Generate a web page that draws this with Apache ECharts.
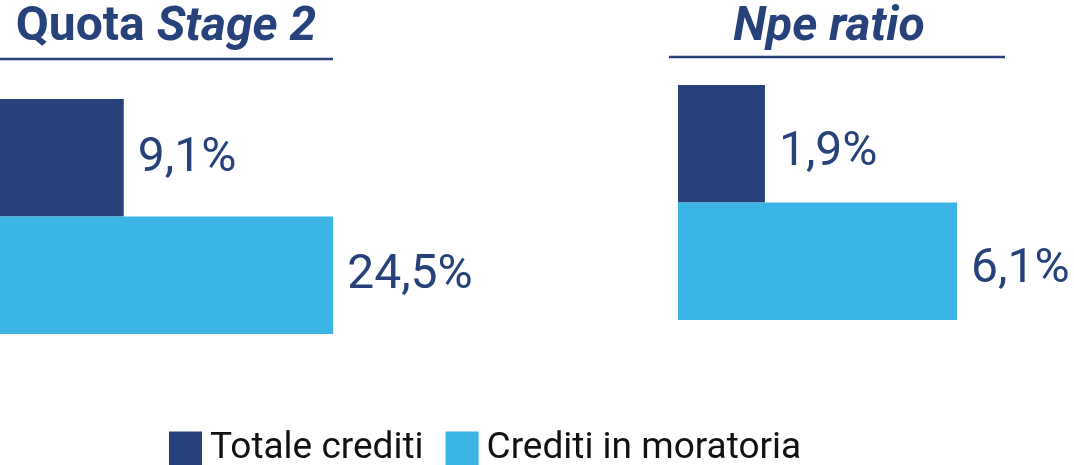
<!DOCTYPE html>
<html>
<head>
<meta charset="utf-8">
<script src="https://cdn.jsdelivr.net/npm/echarts@6/dist/echarts.min.js"></script>
<style>
  html, body { margin: 0; padding: 0; background: #fff; }
  #chart { width: 1074px; height: 465px; }
</style>
</head>
<body>
<div id="chart"></div>
<script>
// data
const seriesNames = ['Totale crediti', 'Crediti in moratoria'];
const stage2Values = [9.1, 24.5];
const npeValues = [1.9, 6.1];

const NAVY = '#27417a';
const LIGHT = '#3db4e6';
const FONT = 'Roboto';

function pct(v) {
    return v.toFixed(1).replace('.', ',') + '%';
}

// one series per legend entry; each fills its own category row
function buildSeries(values, gridIdx, labelDy) {
    return seriesNames.map(function (name, i) {
        const data = values.map(function (v, j) { return j === i ? v : '-'; });
        return {
            name: name,
            type: 'bar',
            xAxisIndex: gridIdx,
            yAxisIndex: gridIdx,
            stack: 'g' + gridIdx,
            barWidth: '100%',
            itemStyle: { color: i === 0 ? NAVY : LIGHT },
            label: {
                show: true,
                position: 'right',
                distance: 14,
                offset: [0, labelDy],
                fontFamily: FONT,
                fontSize: 48,
                color: NAVY,
                formatter: function (p) { return pct(p.value); }
            },
            data: data
        };
    });
}

const chart = echarts.init(document.getElementById('chart'));

const axisHidden = {
    axisLine: { show: false },
    axisTick: { show: false },
    axisLabel: { show: false },
    splitLine: { show: false }
};

const options = {
    animation: false,
    grid: [
        { left: 0, top: 99, width: 408, height: 235 },
        { left: 678, top: 85, width: 366, height: 235 }
    ],
    xAxis: [
        Object.assign({ type: 'value', gridIndex: 0, min: 0, max: 30 }, axisHidden),
        Object.assign({ type: 'value', gridIndex: 1, min: 0, max: 8 }, axisHidden)
    ],
    yAxis: [
        Object.assign({ type: 'category', gridIndex: 0, inverse: true, data: seriesNames }, axisHidden),
        Object.assign({ type: 'category', gridIndex: 1, inverse: true, data: seriesNames }, axisHidden)
    ],
    legend: {
        left: 169,
        top: 430,
        padding: 0,
        icon: 'rect',
        itemWidth: 33,
        itemHeight: 34,
        itemGap: 22,
        selectedMode: false,
        textStyle: {
            fontFamily: FONT,
            fontSize: 37,
            color: '#111',
            padding: [0, 0, 0, 3]
        },
        data: seriesNames
    },
    graphic: [
        {
            type: 'text',
            x: 166,
            y: 28,
            style: {
                text: '{a|Quota }{b|Stage 2}',
                align: 'center',
                verticalAlign: 'middle',
                rich: {
                    a: { fontFamily: FONT, fontWeight: 'bold', fontSize: 48, fill: NAVY },
                    b: { fontFamily: FONT, fontWeight: 'bold', fontStyle: 'italic', fontSize: 48, fill: NAVY }
                }
            }
        },
        {
            type: 'text',
            x: 829,
            y: 28,
            style: {
                text: 'Npe ratio',
                align: 'center',
                verticalAlign: 'middle',
                fontFamily: FONT,
                fontWeight: 'bold',
                fontStyle: 'italic',
                fontSize: 48,
                fill: NAVY
            }
        },
        {
            type: 'line',
            shape: { x1: 0, y1: 59, x2: 333, y2: 59 },
            style: { stroke: NAVY, lineWidth: 2.5 }
        },
        {
            type: 'line',
            shape: { x1: 669, y1: 57, x2: 1005, y2: 57 },
            style: { stroke: NAVY, lineWidth: 2.5 }
        }
    ],
    series: buildSeries(stage2Values, 0, 1).concat(buildSeries(npeValues, 1, 9))
};

chart.setOption(options);

window.onresize = function () {
    chart.resize();
};
</script>
</body>
</html>
